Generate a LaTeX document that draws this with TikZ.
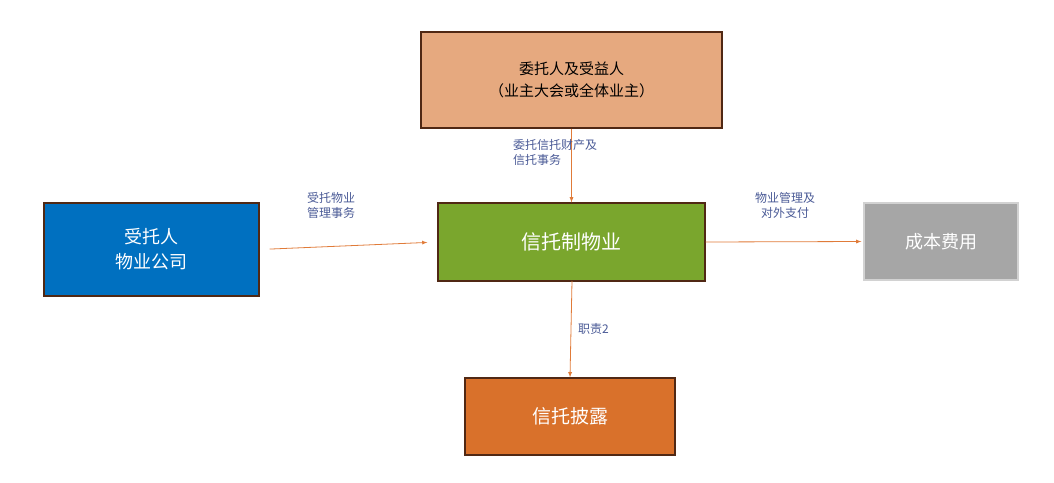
\documentclass[tikz,border=0pt]{standalone}
\usepackage{fontspec}
\setmainfont{Noto Sans CJK SC}
\definecolor{brd}{RGB}{80,40,20}
\definecolor{lgray}{RGB}{210,210,210}
\definecolor{ctop}{RGB}{230,169,127}
\definecolor{cblue}{RGB}{0,112,192}
\definecolor{cgreen}{RGB}{122,166,45}
\definecolor{cgray}{RGB}{166,166,166}
\definecolor{corange}{RGB}{217,113,43}
\definecolor{carr}{RGB}{224,123,57}
\definecolor{clbl}{RGB}{74,90,150}
\begin{document}
\begin{tikzpicture}[x=1pt,y=-1pt,
  box/.style={draw=#1,line width=1.2pt,inner sep=0pt,align=center},
  arr/.style={draw=carr,line width=0.8pt,-latex},
  lbl/.style={text=clbl,font=\fontsize{12}{15}\selectfont,align=center,inner sep=0pt}]
\useasboundingbox (0,0) rectangle (1054,482);
\node[box=brd,fill=ctop,minimum width=301,minimum height=96,font=\fontsize{15}{22}\selectfont] (t) at (571.5,80) {委托人及受益人\\（业主大会或全体业主）};
\node[box=brd,fill=cblue,text=white,minimum width=215,minimum height=93,font=\fontsize{18}{25}\selectfont] (l) at (151.5,249.5) {受托人\\物业公司};
\node[box=brd,fill=cgreen,text=white,minimum width=267,minimum height=78,font=\fontsize{20}{24}\selectfont] (c) at (571.5,242) {信托制物业};
\node[box=lgray,fill=cgray,text=white,minimum width=154,minimum height=77,font=\fontsize{18}{24}\selectfont] (r) at (941,241.5) {成本费用};
\node[box=brd,fill=corange,text=white,minimum width=210,minimum height=77,font=\fontsize{19}{24}\selectfont] (b) at (570,416.5) {信托披露};
\coordinate (cs) at (572,281);
\draw[arr] (t.south) -- (c.north);
\draw[arr,shorten <=10pt,shorten >=10pt] (l.east) -- (c.west);
\draw[arr,shorten >=2pt] (c.east) -- (r.west);
\draw[arr] (cs) -- (b.north);
\node[lbl,align=left,anchor=north west] (lt) at (513,139) {委托信托财产及\\信托事务};
\node[lbl] (ll) at (331,205) {受托物业\\管理事务};
\node[lbl] (lr) at (785,205) {物业管理及\\对外支付};
\node[lbl,anchor=west] (lb) at (578,329) {职责2};
\end{tikzpicture}
\end{document}
